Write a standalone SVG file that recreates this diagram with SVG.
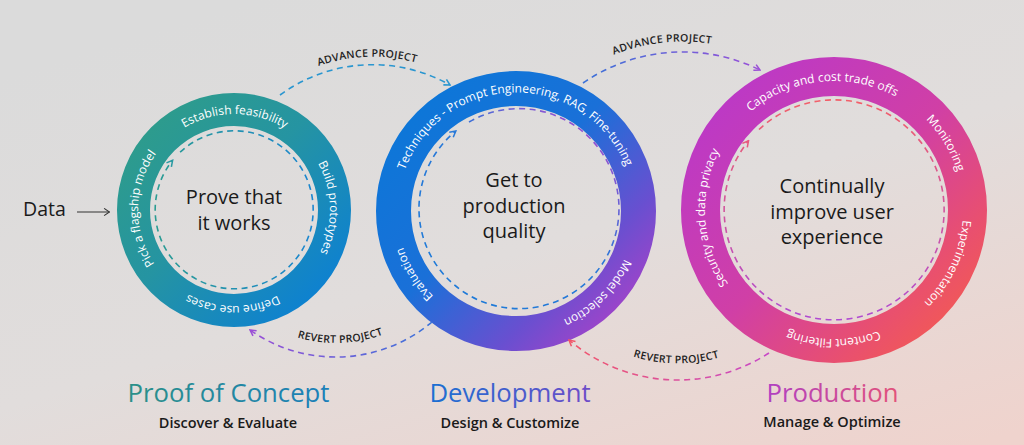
<svg xmlns="http://www.w3.org/2000/svg" width="1024" height="445" viewBox="0 0 1024 445">
<style>
  text { font-family: "Open Sans", "Noto Sans", "Liberation Sans", sans-serif; }
  .rl { font-size: 12px; font-weight: 500; fill: #ffffff; text-anchor: middle; }
  .ct { font-size: 20px; fill: #1a1a1a; text-anchor: middle; }
  .cl { font-size: 10.5px; font-weight: 600; fill: #222222; letter-spacing: 0.3px; text-anchor: middle; }
  .dash { fill: none; stroke-width: 1.6; stroke-dasharray: 6 4.5; }
  .ring { fill: none; }
  .title { font-size: 25.7px; font-weight: 500; text-anchor: middle; }
  .sub { font-size: 14.5px; font-weight: 600; fill: #1a1a1a; text-anchor: middle; }
</style>
<defs>
  <linearGradient id="bg" x1="0.25" y1="0" x2="0.95" y2="1">
    <stop offset="0" stop-color="#dbdbdb"/>
    <stop offset="0.5" stop-color="#e1dddc"/>
    <stop offset="1" stop-color="#efd3cd"/>
  </linearGradient>
  <linearGradient id="g1" x1="0" y1="0" x2="1" y2="1">
    <stop offset="0" stop-color="#2f9d88"/>
    <stop offset="0.45" stop-color="#2594a2"/>
    <stop offset="1" stop-color="#0a7ed8"/>
  </linearGradient>
  <linearGradient id="g2" x1="0" y1="0" x2="1" y2="1">
    <stop offset="0" stop-color="#0a78d8"/>
    <stop offset="0.45" stop-color="#1a70d8"/>
    <stop offset="0.75" stop-color="#6a4fd0"/>
    <stop offset="1" stop-color="#b63fc6"/>
  </linearGradient>
  <linearGradient id="g3" x1="0" y1="0" x2="1" y2="1">
    <stop offset="0" stop-color="#b838cc"/>
    <stop offset="0.5" stop-color="#d03fa6"/>
    <stop offset="0.8" stop-color="#e9506e"/>
    <stop offset="1" stop-color="#f65d4a"/>
  </linearGradient>
  <linearGradient id="d1" x1="0" y1="0" x2="1" y2="0">
    <stop offset="0" stop-color="#2a9c92"/>
    <stop offset="1" stop-color="#1a86d0"/>
  </linearGradient>
  <linearGradient id="d2" x1="0.2" y1="0.85" x2="0.85" y2="0.1">
    <stop offset="0" stop-color="#1f7ad8"/>
    <stop offset="0.55" stop-color="#2a78d8"/>
    <stop offset="1" stop-color="#9a4fd2"/>
  </linearGradient>
  <linearGradient id="d3" x1="0" y1="0" x2="0" y2="1">
    <stop offset="0" stop-color="#f2606a"/>
    <stop offset="1" stop-color="#b04ad2"/>
  </linearGradient>
  <linearGradient id="t1" gradientUnits="userSpaceOnUse" x1="127" y1="0" x2="330" y2="0">
    <stop offset="0" stop-color="#2b9088"/>
    <stop offset="1" stop-color="#1c7fba"/>
  </linearGradient>
  <linearGradient id="t2" gradientUnits="userSpaceOnUse" x1="429" y1="0" x2="590" y2="0">
    <stop offset="0" stop-color="#1a6fd2"/>
    <stop offset="1" stop-color="#6e4cc8"/>
  </linearGradient>
  <linearGradient id="t3" gradientUnits="userSpaceOnUse" x1="767" y1="0" x2="898" y2="0">
    <stop offset="0" stop-color="#b040c2"/>
    <stop offset="1" stop-color="#e2527a"/>
  </linearGradient>
  <linearGradient id="c2" gradientUnits="userSpaceOnUse" x1="432" y1="0" x2="250" y2="0">
    <stop offset="0" stop-color="#3b74da"/>
    <stop offset="1" stop-color="#9a4fd6"/>
  </linearGradient>
  <linearGradient id="c3" gradientUnits="userSpaceOnUse" x1="583" y1="0" x2="760" y2="0">
    <stop offset="0" stop-color="#3a72d8"/>
    <stop offset="1" stop-color="#9a50d8"/>
  </linearGradient>
  <linearGradient id="c4" gradientUnits="userSpaceOnUse" x1="769" y1="0" x2="569" y2="0">
    <stop offset="0" stop-color="#c84ac8"/>
    <stop offset="1" stop-color="#f2566a"/>
  </linearGradient>
  <marker id="mDark" viewBox="0 0 10 10" refX="9" refY="5" markerWidth="9" markerHeight="9" markerUnits="userSpaceOnUse" orient="auto">
    <path d="M3,1 L9,5 L3,9" fill="none" stroke="#333333" stroke-width="1.2"/>
  </marker>
  <marker id="mBlue" viewBox="0 0 10 10" refX="8.5" refY="5" markerWidth="9" markerHeight="9" markerUnits="userSpaceOnUse" orient="auto">
    <path d="M2,1.5 L8.5,5 L2,8.5" fill="none" stroke="#2a96d0" stroke-width="1.7"/>
  </marker>
  <marker id="mPurple" viewBox="0 0 10 10" refX="8.5" refY="5" markerWidth="9" markerHeight="9" markerUnits="userSpaceOnUse" orient="auto">
    <path d="M2,1.5 L8.5,5 L2,8.5" fill="none" stroke="#9a4fd6" stroke-width="1.7"/>
  </marker>
  <marker id="mRed" viewBox="0 0 10 10" refX="8.5" refY="5" markerWidth="9" markerHeight="9" markerUnits="userSpaceOnUse" orient="auto">
    <path d="M2,1.5 L8.5,5 L2,8.5" fill="none" stroke="#f0566a" stroke-width="1.7"/>
  </marker>
  <marker id="mTeal" viewBox="0 0 10 10" refX="8.5" refY="5" markerWidth="9" markerHeight="9" markerUnits="userSpaceOnUse" orient="auto">
    <path d="M2,1.5 L8.5,5 L2,8.5" fill="none" stroke="#2a9aa2" stroke-width="1.7"/>
  </marker>
  <marker id="mBlue2" viewBox="0 0 10 10" refX="8.5" refY="5" markerWidth="9" markerHeight="9" markerUnits="userSpaceOnUse" orient="auto">
    <path d="M2,1.5 L8.5,5 L2,8.5" fill="none" stroke="#2a7ad8" stroke-width="1.7"/>
  </marker>
  <marker id="mPink" viewBox="0 0 10 10" refX="8.5" refY="5" markerWidth="9" markerHeight="9" markerUnits="userSpaceOnUse" orient="auto">
    <path d="M2,1.5 L8.5,5 L2,8.5" fill="none" stroke="#e8587e" stroke-width="1.7"/>
  </marker>
  <!-- text paths: clockwise double loops starting at angle 0 -->
  <path id="p1" d="M330,210 A96,96 0 1 1 138,210 A96,96 0 1 1 330,210 A96,96 0 1 1 138,210 A96,96 0 1 1 330,210"/>
  <path id="p2" d="M634.5,211 A118.5,118.5 0 1 1 397.5,211 A118.5,118.5 0 1 1 634.5,211 A118.5,118.5 0 1 1 397.5,211 A118.5,118.5 0 1 1 634.5,211"/>
  <path id="p3" d="M963,210 A129,129 0 1 1 705,210 A129,129 0 1 1 963,210 A129,129 0 1 1 705,210 A129,129 0 1 1 963,210"/>
  <path id="lp1" d="M227.1,144.3 A165,165 0 0 1 512.7,134.4"/>
  <path id="lp2" d="M232,294.6 A135.5,135.5 0 0 0 445.4,287.1"/>
  <path id="lp3" d="M528.5,124.8 A184,184 0 0 1 810.2,93.2"/>
  <path id="lp4" d="M561,308.1 A151,151 0 0 0 792.4,310.6"/>
</defs>

<rect x="0" y="0" width="1024" height="445" fill="url(#bg)"/>

<g id="data">
  <text x="23" y="216" style="font-size:19.5px; fill:#1a1a1a;">Data</text>
</g>

<g id="proof-of-concept">
  <circle class="ring" cx="234" cy="210" r="100.5" stroke="url(#g1)" stroke-width="33"/>
  <path class="dash" d="M180.1,152.2 A79,79 0 1 1 172.6,160.3" stroke="url(#d1)" marker-end="url(#mTeal)"/>
  <text class="rl"><textPath href="#p1" startOffset="452.4">Establish feasibility</textPath></text>
  <text class="rl"><textPath href="#p1" startOffset="599.8">Build prototypes</textPath></text>
  <text class="rl"><textPath href="#p1" startOffset="754">Define use cases</textPath></text>
  <text class="rl"><textPath href="#p1" startOffset="904.8">Pick a flagship model</textPath></text>
  <text class="ct" x="234" y="204">Prove that</text>
  <text class="ct" x="234" y="230">it works</text>
  <text class="title" x="228.5" y="402" fill="url(#t1)">Proof of Concept</text>
  <text class="sub" x="228" y="428">Discover &amp; Evaluate</text>
</g>

<g id="development">
  <circle class="ring" cx="516" cy="211" r="122.5" stroke="url(#g2)" stroke-width="35"/>
  <path class="dash" d="M469,122 A100,100 0 1 1 455.8,131.1" stroke="url(#d2)" marker-end="url(#mBlue2)"/>
  <text class="rl"><textPath href="#p2" startOffset="556.3">Techniques - Prompt Engineering, RAG, Fine-tuning</textPath></text>
  <text class="rl"><textPath href="#p2" startOffset="837.6">Model selection</textPath></text>
  <text class="rl"><textPath href="#p2" startOffset="1050.6">Evaluation</textPath></text>
  <text class="ct" x="514" y="186.5">Get to</text>
  <text class="ct" x="514" y="212.5">production</text>
  <text class="ct" x="514" y="238">quality</text>
  <text class="title" x="510" y="402" fill="url(#t2)">Development</text>
  <text class="sub" x="510" y="428">Design &amp; Customize</text>
</g>

<g id="production">
  <circle class="ring" cx="834" cy="210" r="133.5" stroke="url(#g3)" stroke-width="39"/>
  <path class="dash" d="M759,129.5 A110,110 0 1 1 748.5,140.8" stroke="url(#d3)" marker-end="url(#mPink)"/>
  <text class="rl"><textPath href="#p3" startOffset="594.4">Capacity and cost trade offs</textPath></text>
  <text class="rl"><textPath href="#p3" startOffset="740.7">Monitoring</textPath></text>
  <text class="rl"><textPath href="#p3" startOffset="866.8">Experimentation</textPath></text>
  <text class="rl"><textPath href="#p3" startOffset="1013.2">Content Filtering</textPath></text>
  <text class="rl"><textPath href="#p3" startOffset="1206.8">Security and data privacy</textPath></text>
  <text class="ct" x="832" y="193">Continually</text>
  <text class="ct" x="832" y="218.5">improve user</text>
  <text class="ct" x="832" y="244">experience</text>
  <text class="title" x="832.5" y="402" fill="url(#t3)">Production</text>
  <text class="sub" x="832" y="427">Manage &amp; Optimize</text>
</g>

<g id="connectors">
  <line x1="77" y1="212" x2="109.5" y2="212" stroke="#333333" stroke-width="1.1" marker-end="url(#mDark)"/>
  <path class="dash" d="M280,95 A157,157 0 0 1 450,85" stroke="#2a96d0" marker-end="url(#mBlue)"/>
  <text class="cl"><textPath href="#lp1" startOffset="50%">ADVANCE PROJECT</textPath></text>
  <path class="dash" d="M432,322 A149.6,149.6 0 0 1 250,330" stroke="url(#c2)" marker-end="url(#mPurple)"/>
  <text class="cl"><textPath href="#lp2" startOffset="50%">REVERT PROJECT</textPath></text>
  <path class="dash" d="M583,83 A175.2,175.2 0 0 1 760,70" stroke="url(#c3)" marker-end="url(#mPurple)"/>
  <text class="cl"><textPath href="#lp3" startOffset="50%">ADVANCE PROJECT</textPath></text>
  <path class="dash" d="M769,353 A167.7,167.7 0 0 1 569,340" stroke="url(#c4)" marker-end="url(#mRed)"/>
  <text class="cl"><textPath href="#lp4" startOffset="50%">REVERT PROJECT</textPath></text>
</g>
</svg>
